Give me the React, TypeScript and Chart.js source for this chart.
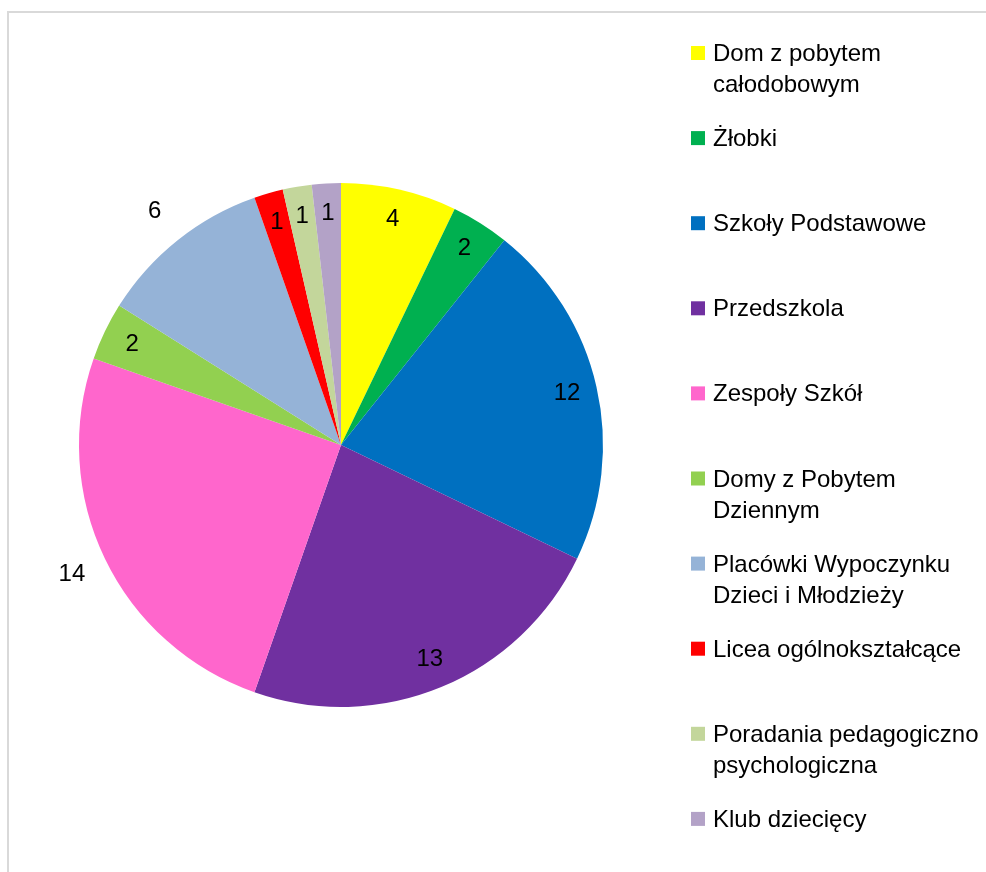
import React, { useEffect, useRef } from "react";
import { Chart, registerables } from "chart.js";

Chart.register(...registerables);

const LABELS = [
  "Dom z pobytem całodobowym",
  "Żłobki",
  "Szkoły Podstawowe",
  "Przedszkola",
  "Zespoły Szkół",
  "Domy z Pobytem Dziennym",
  "Placówki Wypoczynku Dzieci i Młodzieży",
  "Licea ogólnokształcące",
  "Poradania pedagogiczno psychologiczna",
  "Klub dziecięcy",
];
const VALUES = [4, 2, 12, 13, 14, 2, 6, 1, 1, 1];
const COLORS = [
  "#FFFF00",
  "#00B050",
  "#0070C0",
  "#7030A0",
  "#FF66CC",
  "#92D050",
  "#95B3D7",
  "#FF0000",
  "#C3D69B",
  "#B3A2C7",
];
// style: which slice labels sit outside the pie
const OUTSIDE_LABELS = [4, 6];

const FONT = '24px "Liberation Sans", Arial, sans-serif';

const labelPlugin = {
  id: "sliceLabels",
  afterDatasetsDraw(chart: any) {
    const ctx = chart.ctx;
    const meta = chart.getDatasetMeta(0);
    ctx.save();
    ctx.font = FONT;
    ctx.fillStyle = "#000";
    ctx.textAlign = "center";
    ctx.textBaseline = "middle";
    meta.data.forEach((arc: any, i: number) => {
      const p = arc.getProps(["x", "y", "startAngle", "endAngle", "outerRadius"], true);
      const mid = (p.startAngle + p.endAngle) / 2;
      const f = OUTSIDE_LABELS.includes(i) ? 1.14 : 0.885;
      const r = p.outerRadius * f;
      ctx.fillText(String(VALUES[i]), p.x + Math.cos(mid) * r, p.y + Math.sin(mid) * r);
    });
    ctx.restore();
  },
};

const legendPlugin = {
  id: "sideLegend",
  afterDraw(chart: any) {
    const ctx = chart.ctx;
    ctx.save();
    ctx.font = FONT;
    ctx.textAlign = "left";
    ctx.textBaseline = "alphabetic";
    const maxW = 272;
    LABELS.forEach((label, i) => {
      const base = 61 + i * 85.1;
      const words = label.split(" ");
      const lines: string[] = [];
      let cur = "";
      words.forEach((w) => {
        const test = cur ? cur + " " + w : w;
        if (cur && ctx.measureText(test).width > maxW) {
          lines.push(cur);
          cur = w;
        } else cur = test;
      });
      if (cur) lines.push(cur);
      ctx.fillStyle = COLORS[i];
      ctx.fillRect(691, base - 15, 14, 14);
      ctx.fillStyle = "#000";
      lines.forEach((ln, k) => ctx.fillText(ln, 713, base + k * 31));
    });
    ctx.restore();
  },
};

export default function App() {
  const ref = useRef<HTMLCanvasElement>(null);
  useEffect(() => {
    if (!ref.current) return;
    const chart = new Chart(ref.current, {
      type: "pie",
      data: {
        labels: LABELS,
        datasets: [
          {
            data: VALUES,
            backgroundColor: COLORS,
            borderWidth: 0,
          },
        ],
      },
      options: {
        animation: false,
        responsive: false,
        maintainAspectRatio: false,
        layout: { padding: { left: 79, right: 383, top: 183, bottom: 165 } },
        plugins: {
          legend: { display: false },
          tooltip: { enabled: false },
          title: { display: false },
        },
      },
      plugins: [labelPlugin, legendPlugin],
    });
    return () => chart.destroy();
  }, []);
  return (
    <div
      style={{
        position: "absolute",
        left: 0,
        top: 0,
        width: 986,
        height: 872,
        overflow: "hidden",
        background: "#fff",
      }}
    >
      <div
        style={{
          position: "absolute",
          left: 7,
          top: 11,
          width: 1000,
          height: 900,
          border: "2px solid #d9d9d9",
        }}
      />
      <canvas
        ref={ref}
        width={986}
        height={872}
        style={{ position: "absolute", left: 0, top: 0, width: 986, height: 872, display: "block" }}
      />
    </div>
  );
}
